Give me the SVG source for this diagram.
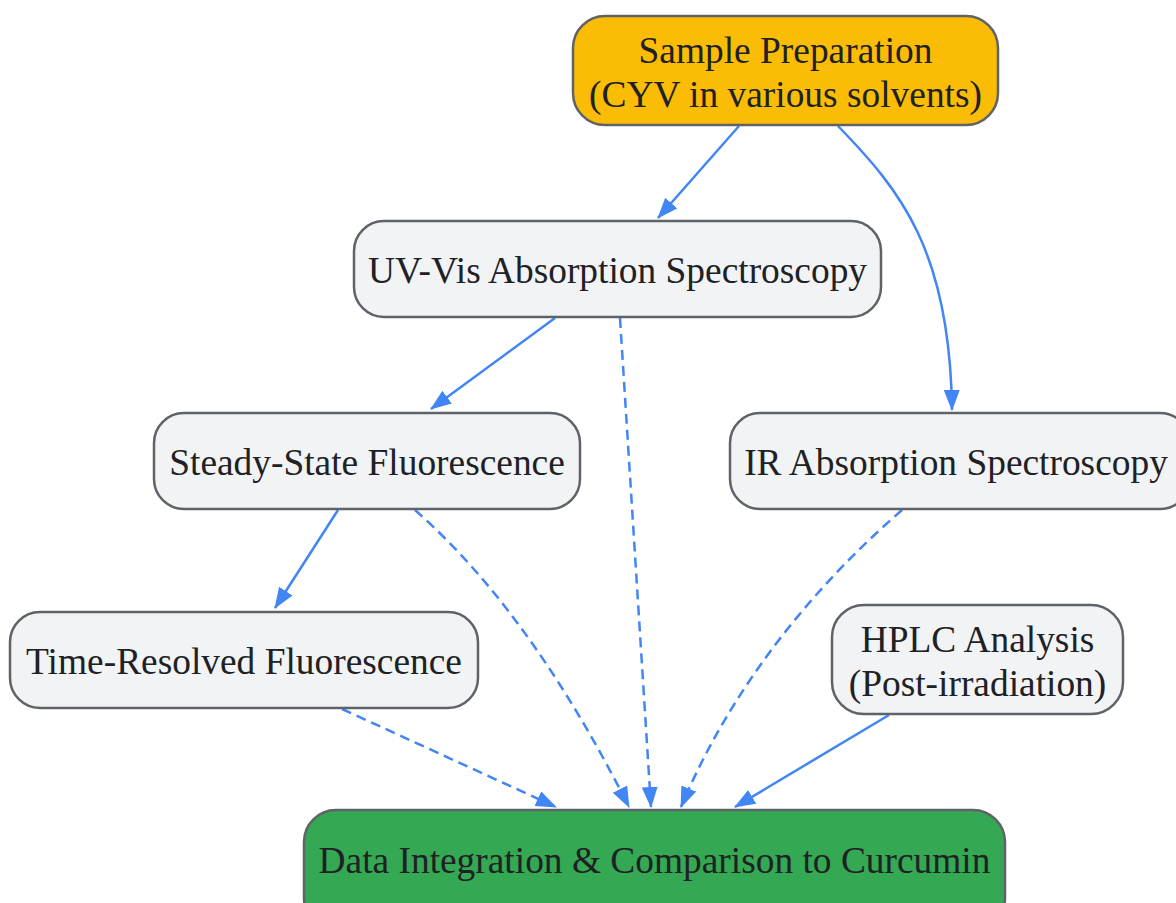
<svg xmlns="http://www.w3.org/2000/svg" width="1176" height="903" viewBox="0 0 1176 903">
<style>
.n rect{stroke:#5f6368;stroke-width:2.5;}
.g rect{fill:#F1F3F4;}
.n text{font-family:"Liberation Serif","Times New Roman",serif;font-size:37.4px;fill:#202124;text-anchor:middle;}
.e{fill:none;stroke:#4285F4;stroke-width:2.5;marker-end:url(#ah);}
.d{stroke-dasharray:10,6;}
</style>
<defs>
<marker id="ah" markerUnits="userSpaceOnUse" markerWidth="24" markerHeight="18" refX="20" refY="8" orient="auto">
<path d="M0,0 L21,8 L0,16 z" fill="#4285F4"/>
</marker>
</defs>
<rect width="1176" height="903" fill="#ffffff"/>
<g id="edges">
<path class="e" d="M739,126 L658,218"/>
<path class="e" d="M838,126 C900,190 950,250 952,410"/>
<path class="e" d="M555,318 L431,409"/>
<path class="e d" d="M620,318 L651,807"/>
<path class="e" d="M338,510 L275,608"/>
<path class="e d" d="M415,510 C500,585 570,690 629,807"/>
<path class="e d" d="M902,510 C810,590 730,690 681,807"/>
<path class="e d" d="M342,709 L556,807"/>
<path class="e" d="M889,715 L735,807"/>
</g>
<g id="sample" class="n">
<rect x="573" y="16" width="425" height="109" rx="32" fill="#FBBC05"/>
<text x="785.5" y="63">Sample Preparation</text>
<text x="785.5" y="107">(CYV in various solvents)</text>
</g>
<g id="uvvis" class="n g">
<rect x="354" y="221" width="527" height="96" rx="30"/>
<text x="617.5" y="283">UV-Vis Absorption Spectroscopy</text>
</g>
<g id="steady" class="n g">
<rect x="154" y="413" width="426" height="96" rx="30"/>
<text x="367" y="475">Steady-State Fluorescence</text>
</g>
<g id="ir" class="n g">
<rect x="730" y="413" width="460" height="96" rx="30"/>
<text x="956" y="475">IR Absorption Spectroscopy</text>
</g>
<g id="time" class="n g">
<rect x="10" y="612" width="468" height="96" rx="30"/>
<text x="244" y="674">Time-Resolved Fluorescence</text>
</g>
<g id="hplc" class="n g">
<rect x="832" y="605" width="291" height="109" rx="32"/>
<text x="977.5" y="652">HPLC Analysis</text>
<text x="977.5" y="696">(Post-irradiation)</text>
</g>
<g id="data" class="n">
<rect x="304" y="810" width="701" height="120" rx="32" fill="#34A853"/>
<text x="654.5" y="873">Data Integration &amp; Comparison to Curcumin</text>
</g>
</svg>
